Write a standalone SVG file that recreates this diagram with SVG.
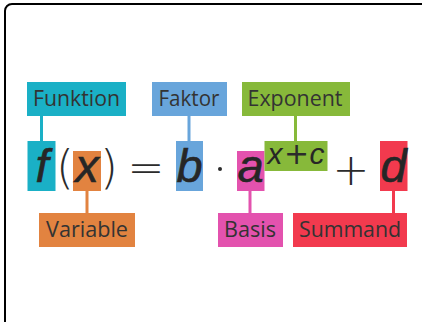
<svg xmlns="http://www.w3.org/2000/svg" width="422" height="322" viewBox="0 0 422 322">
<style>
.lbl{font-family:"Open Sans","Noto Sans","DejaVu Sans",sans-serif;font-size:21px;fill:#333333;text-anchor:middle}
.var{font-family:"Liberation Sans",Arial,sans-serif;font-style:italic;font-size:47px;fill:#262626;text-anchor:middle;stroke:#262626;stroke-width:0.6}
.op{font-family:"DejaVu Sans","Liberation Sans",sans-serif;font-weight:300;fill:#2b2b2b;text-anchor:middle}
.sup{font-family:"Liberation Sans",Arial,sans-serif;font-style:italic;font-size:30px;fill:#262626;text-anchor:middle}
.cn{stroke-width:3;fill:none}
</style>
<rect x="0" y="0" width="422" height="322" fill="#ffffff"/>
<rect x="5" y="4" width="440" height="340" rx="7" fill="none" stroke="#000" stroke-width="2"/>
<g id="connectors">
<line class="cn" x1="41.5" y1="116" x2="41.5" y2="141" stroke="#1ab0c6"/>
<line class="cn" x1="189" y1="116" x2="189" y2="141" stroke="#68a5db"/>
<line class="cn" x1="295.5" y1="116" x2="295.5" y2="141" stroke="#87b93a"/>
<line class="cn" x1="87" y1="191" x2="87" y2="213" stroke="#e28340"/>
<line class="cn" x1="250" y1="191" x2="250" y2="213" stroke="#e352ae"/>
<line class="cn" x1="393.5" y1="191" x2="393.5" y2="213" stroke="#f23a4e"/>
</g>
<g id="funktion">
<rect x="27" y="82" width="99" height="34" fill="#1ab0c6"/>
<text class="lbl" x="76.5" y="106" textLength="87" lengthAdjust="spacingAndGlyphs">Funktion</text>
</g>
<g id="faktor">
<rect x="152" y="82" width="75" height="34" fill="#68a5db"/>
<text class="lbl" x="189" y="106" textLength="61" lengthAdjust="spacingAndGlyphs">Faktor</text>
</g>
<g id="exponent">
<rect x="242" y="82" width="108" height="34" fill="#87b93a"/>
<text class="lbl" x="295" y="106" textLength="95" lengthAdjust="spacingAndGlyphs">Exponent</text>
</g>
<g id="variable">
<rect x="39" y="213" width="96" height="34" fill="#e28340"/>
<text class="lbl" x="87" y="237" textLength="82" lengthAdjust="spacingAndGlyphs">Variable</text>
</g>
<g id="basis">
<rect x="218" y="213" width="65" height="34" fill="#e352ae"/>
<text class="lbl" x="250" y="237" textLength="52" lengthAdjust="spacingAndGlyphs">Basis</text>
</g>
<g id="summand">
<rect x="293" y="213" width="114" height="34" fill="#f23a4e"/>
<text class="lbl" x="350" y="237" textLength="102" lengthAdjust="spacingAndGlyphs">Summand</text>
</g>
<g id="f">
<rect x="27.5" y="141" width="28" height="50" fill="#1ab0c6"/>
<text class="var" x="42" y="182">f</text>
</g>
<g id="x">
<rect x="73" y="151" width="28" height="40" fill="#e28340"/>
<text class="var" x="87" y="182">x</text>
</g>
<g id="b">
<rect x="176" y="141" width="27" height="50" fill="#68a5db"/>
<text class="var" x="189.5" y="182">b</text>
</g>
<g id="a">
<rect x="237" y="151" width="27.5" height="40" fill="#e352ae"/>
<text class="var" x="250.5" y="182">a</text>
</g>
<g id="xc">
<rect x="264.5" y="141" width="63" height="30" fill="#87b93a"/>
<text class="sup" y="164"><tspan x="275">x</tspan><tspan class="op" x="296.5" font-size="30">+</tspan><tspan x="317">c</tspan></text>
</g>
<g id="d">
<rect x="380" y="141" width="27.5" height="50" fill="#f23a4e"/>
<text class="var" x="393.5" y="182">d</text>
</g>
<g id="ops">
<text class="op" x="65" y="183" font-size="46">(</text>
<text class="op" x="109" y="183" font-size="46">)</text>
<text class="op" x="146" y="183" font-size="44">=</text>
<circle cx="220" cy="169" r="2" fill="#2b2b2b"/>
<text class="op" x="351" y="185" font-size="44">+</text>
</g>
</svg>
